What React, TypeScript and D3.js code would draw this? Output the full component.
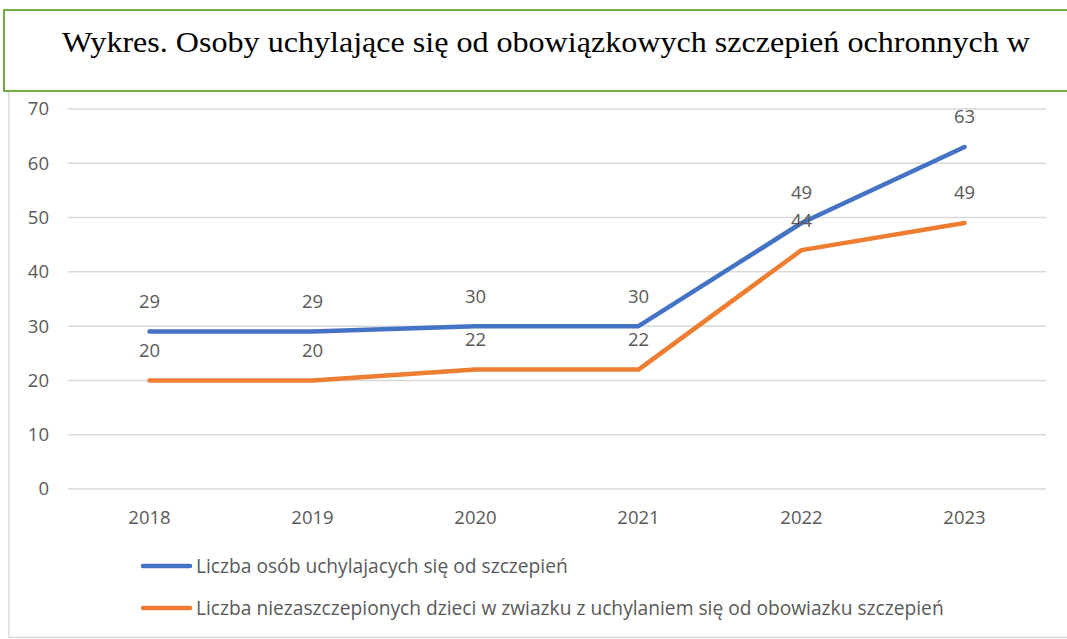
import React, { useEffect, useRef } from "react";
import * as d3 from "d3";

const years = ["2018", "2019", "2020", "2021", "2022", "2023"];
const refusing = [29, 29, 30, 30, 49, 63];
const unvaccinated = [20, 20, 22, 22, 44, 49];
const yTicks = [0, 10, 20, 30, 40, 50, 60, 70];
const seriesNames = [
  "Liczba osób uchylajacych się od szczepień",
  "Liczba niezaszczepionych dzieci w zwiazku z uchylaniem się od obowiazku szczepień",
];
const title = "Wykres. Osoby uchylające się od obowiązkowych szczepień ochronnych w";

const App = () => {
  const ref = useRef<SVGSVGElement>(null);

  useEffect(() => {
    const svg = d3.select(ref.current);
    svg.selectAll("*").remove();

    const W = 1067;
    const font = "'Open Sans', 'Noto Sans', sans-serif";
    const fs = 18.5;
    const grey = "#595959";

    // outer chart frame (left + bottom only visible)
    svg
      .append("line")
      .attr("x1", 9).attr("x2", 9).attr("y1", 91).attr("y2", 638)
      .attr("stroke", "#d9d9d9").attr("stroke-width", 1.5);
    svg
      .append("line")
      .attr("x1", 9).attr("x2", W).attr("y1", 637.5).attr("y2", 637.5)
      .attr("stroke", "#d9d9d9").attr("stroke-width", 1.5);

    // title box
    svg
      .append("rect")
      .attr("x", 4).attr("y", 10).attr("width", W + 10).attr("height", 81)
      .attr("fill", "#fff").attr("stroke", "#70ad47").attr("stroke-width", 2);
    svg
      .append("text")
      .attr("x", 62).attr("y", 52)
      .attr("textLength", 968)
      .attr("lengthAdjust", "spacingAndGlyphs")
      .attr("font-family", "'Liberation Serif', 'Times New Roman', serif")
      .attr("font-size", 30)
      .attr("fill", "#000")
      .text(title);

    const x = d3.scaleBand().domain(years).range([68, 1046]);
    const y = d3.scaleLinear().domain([0, 70]).range([489, 109]);
    const cx = (d: string) => (x(d) as number) + x.bandwidth() / 2;

    const g = svg.append("g");
    g.selectAll(".grid")
      .data(yTicks)
      .join("line")
      .attr("x1", 68).attr("x2", 1046)
      .attr("y1", (d) => y(d)).attr("y2", (d) => y(d))
      .attr("stroke", "#d9d9d9").attr("stroke-width", 1.5);

    g.selectAll(".ytick")
      .data(yTicks)
      .join("text")
      .attr("x", 49)
      .attr("y", (d) => y(d))
      .attr("dy", "0.35em")
      .attr("text-anchor", "end")
      .attr("font-family", font).attr("font-size", fs).attr("fill", grey)
      .text((d) => d);

    g.selectAll(".xtick")
      .data(years)
      .join("text")
      .attr("x", (d) => cx(d))
      .attr("y", 518)
      .attr("dy", "0.35em")
      .attr("text-anchor", "middle")
      .attr("font-family", font).attr("font-size", fs).attr("fill", grey)
      .text((d) => d);

    const series = [
      { values: refusing, color: "#4472c4" },
      { values: unvaccinated, color: "#ed7d31" },
    ];
    const line = d3
      .line<number>()
      .x((_, i) => cx(years[i]))
      .y((d) => y(d));

    series.forEach((s) => {
      g.append("path")
        .attr("d", line(s.values))
        .attr("fill", "none")
        .attr("stroke", s.color)
        .attr("stroke-width", 4.5)
        .attr("stroke-linecap", "round")
        .attr("stroke-linejoin", "round");
    });

    series.forEach((s) => {
      g.selectAll(null)
        .data(s.values)
        .join("text")
        .attr("x", (_, i) => cx(years[i]))
        .attr("y", (d) => y(d) - 30)
        .attr("dy", "0.35em")
        .attr("text-anchor", "middle")
        .attr("font-family", font).attr("font-size", fs).attr("fill", grey)
        .text((d) => d);
    });

    // legend
    series.forEach((s, i) => {
      const ly = 566 + i * 42;
      g.append("line")
        .attr("x1", 143).attr("x2", 190).attr("y1", ly).attr("y2", ly)
        .attr("stroke", s.color).attr("stroke-width", 4.5)
        .attr("stroke-linecap", "round");
      g.append("text")
        .attr("x", 196).attr("y", ly)
        .attr("dy", "0.35em")
        .attr("font-family", font).attr("font-size", 19.2).attr("fill", grey)
        .text(seriesNames[i]);
    });
  }, []);

  return (
    <svg
      ref={ref}
      width={1067}
      height={639}
      style={{ position: "absolute", left: 0, top: 0, background: "#fff" }}
    />
  );
};

export default App;
